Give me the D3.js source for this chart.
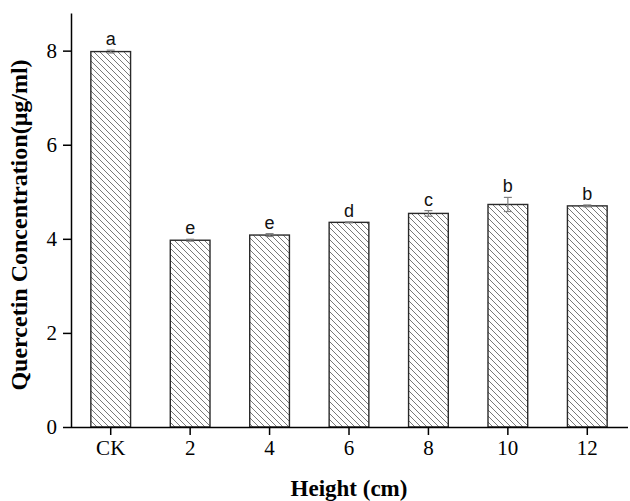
<!DOCTYPE html>
<html>
<head>
<meta charset="utf-8">
<script src="https://cdn.jsdelivr.net/npm/d3@7"></script>
<style>
  html, body { margin: 0; padding: 0; background: #fff; }
  svg { display: block; }
</style>
</head>
<body>
<svg id="chart" width="630" height="501"></svg>
<script>
// Quercetin concentration by plant height, mean ± error, with significance letters
const categories = ["CK", "2", "4", "6", "8", "10", "12"];
const means      = [7.98, 3.97, 4.08, 4.35, 4.54, 4.73, 4.70];
const errors     = [0.03, 0.02, 0.03, 0.01, 0.06, 0.15, 0.02];
const letters    = ["a", "e", "e", "d", "c", "b", "b"];
const yTicks     = [0, 2, 4, 6, 8];

const svg = d3.select("#chart");
const plotLeft = 71, plotRight = 627, plotTop = 13, plotBottom = 427;

const x = d3.scaleBand().domain(categories).range([plotLeft, plotRight])
  .paddingInner(0.5).paddingOuter(0.25);
const y = d3.scaleLinear().domain([0, 8.8]).range([plotBottom, plotTop]);

// diagonal hatch fill
const defs = svg.append("defs");
const pat = defs.append("pattern")
  .attr("id", "hatch").attr("patternUnits", "userSpaceOnUse")
  .attr("width", 6).attr("height", 6);
pat.append("rect").attr("width", 6).attr("height", 6).attr("fill", "#fff");
pat.append("path").attr("d", "M-1,-1 L7,7 M-1,5 L1,7 M5,-1 L7,1")
  .attr("stroke", "#6a6a6a").attr("stroke-width", 0.9);

const data = categories.map((c, i) => ({ c, v: means[i], e: errors[i], l: letters[i] }));

// bars
svg.append("g").selectAll("rect").data(data).join("rect")
  .attr("x", d => x(d.c))
  .attr("y", d => y(d.v))
  .attr("width", x.bandwidth())
  .attr("height", d => y(0) - y(d.v))
  .attr("fill", "url(#hatch)")
  .attr("stroke", "#2a2a2a").attr("stroke-width", 1.4);

// error bars
const eb = svg.append("g").attr("stroke", "#808080").attr("stroke-width", 1.2);
data.forEach(d => {
  const cx = x(d.c) + x.bandwidth() / 2;
  eb.append("line").attr("x1", cx).attr("x2", cx).attr("y1", y(d.v - d.e)).attr("y2", y(d.v + d.e));
  eb.append("line").attr("x1", cx - 4).attr("x2", cx + 4).attr("y1", y(d.v + d.e)).attr("y2", y(d.v + d.e));
  eb.append("line").attr("x1", cx - 4).attr("x2", cx + 4).attr("y1", y(d.v - d.e)).attr("y2", y(d.v - d.e));
});

// significance letters
svg.append("g").selectAll("text").data(data).join("text")
  .attr("x", d => x(d.c) + x.bandwidth() / 2)
  .attr("y", d => y(d.v + d.e) - 5)
  .attr("text-anchor", "middle")
  .attr("font-family", "'Liberation Sans', Arial, sans-serif")
  .attr("font-size", 18).attr("fill", "#111")
  .text(d => d.l);

// axes
const serif = "'Liberation Serif', 'Times New Roman', serif";
const xAxis = svg.append("g").attr("transform", `translate(0,${plotBottom})`)
  .call(d3.axisBottom(x).tickSize(8).tickSizeOuter(0).tickPadding(5));
xAxis.select(".domain").attr("stroke", "#000").attr("stroke-width", 1.5)
  .attr("d", `M${plotLeft},0.5H${plotRight + 1}`);
xAxis.selectAll(".tick line").attr("stroke", "#000").attr("stroke-width", 1.5);
xAxis.selectAll(".tick text").attr("font-family", serif).attr("font-size", 21).attr("fill", "#000");

const yAxis = svg.append("g").attr("transform", `translate(${plotLeft},0)`)
  .call(d3.axisLeft(y).tickValues(yTicks).tickFormat(d3.format("d")).tickSize(8).tickSizeOuter(0).tickPadding(6));
yAxis.select(".domain").attr("stroke", "#000").attr("stroke-width", 1.5);
yAxis.selectAll(".tick line").attr("stroke", "#000").attr("stroke-width", 1.5);
yAxis.selectAll(".tick text").attr("font-family", serif).attr("font-size", 21).attr("fill", "#000");

// axis titles
svg.append("text")
  .attr("x", (plotLeft + plotRight) / 2).attr("y", 496)
  .attr("text-anchor", "middle")
  .attr("font-family", serif).attr("font-weight", "bold").attr("font-size", 23)
  .text("Height (cm)");

svg.append("text")
  .attr("transform", `translate(27,${(plotTop + plotBottom) / 2 + 5}) rotate(-90)`)
  .attr("text-anchor", "middle")
  .attr("font-family", serif).attr("font-weight", "bold").attr("font-size", 24)
  .text("Quercetin Concentration(μg/ml)");
</script>
</body>
</html>
